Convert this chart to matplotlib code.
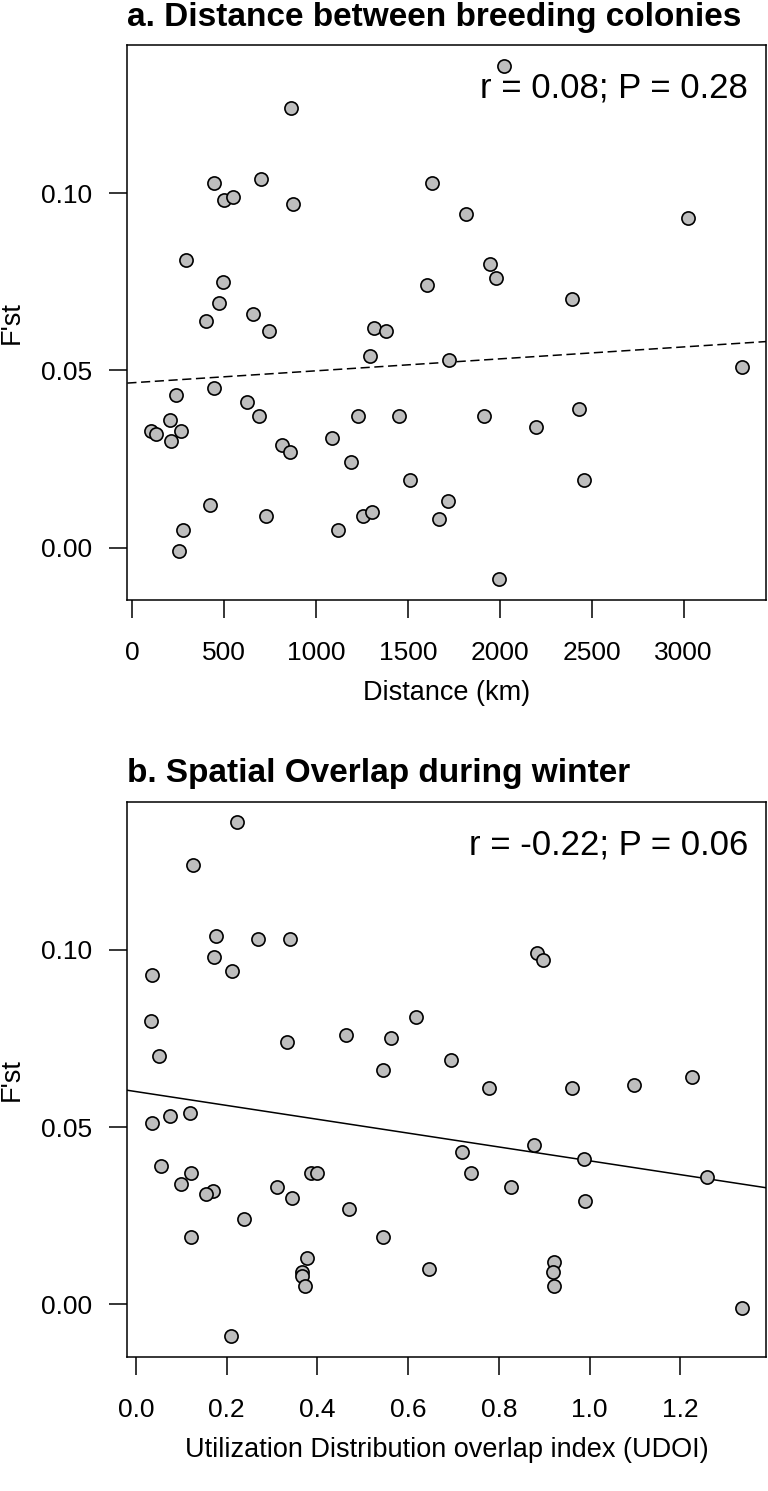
import numpy as np
import matplotlib
matplotlib.use('Agg')
from matplotlib import pyplot as plt

plt.rcParams['font.family'] = ['Liberation Sans', 'DejaVu Sans']

# panel a: distance between breeding colonies (km) vs F'st
dist_km = [864, 446, 699, 496, 547, 873, 1629, 293, 493, 1605, 473, 656, 400,
           2022, 1815, 3025, 1946, 1978, 2391, 745, 1312, 1378, 1293, 1725,
           237, 444, 621, 687, 203, 101, 130, 265, 212, 812, 855, 1085, 1230,
           1453, 1192, 1511, 1716, 1668, 422, 728, 1254, 1301, 1116, 277, 252,
           3319, 1915, 2196, 2429, 2455, 1995]
fst_a = [0.124, 0.103, 0.104, 0.098, 0.099, 0.097, 0.103, 0.081, 0.075, 0.074,
         0.069, 0.066, 0.064, 0.136, 0.094, 0.093, 0.080, 0.076, 0.070, 0.061,
         0.062, 0.061, 0.054, 0.053, 0.043, 0.045, 0.041, 0.037, 0.036, 0.033,
         0.032, 0.033, 0.030, 0.029, 0.027, 0.031, 0.037, 0.037, 0.024, 0.019,
         0.013, 0.008, 0.012, 0.009, 0.009, 0.010, 0.005, 0.005, -0.001,
         0.051, 0.037, 0.034, 0.039, 0.019, -0.009]

# panel b: UDOI vs F'st
udoi = [0.222, 0.126, 0.176, 0.269, 0.340, 0.173, 0.211, 0.036, 0.033, 0.617,
        0.463, 0.563, 0.334, 0.051, 0.544, 0.695, 0.884, 0.897, 1.225, 1.097,
        0.036, 0.075, 0.119, 0.055, 0.122, 0.100, 0.169, 0.155, 0.237, 0.122,
        0.310, 0.343, 0.386, 0.398, 0.470, 0.544, 0.378, 0.367, 0.365, 0.373,
        0.646, 0.209, 0.779, 0.961, 0.719, 0.877, 0.988, 1.259, 0.738, 0.827,
        0.990, 0.922, 0.920, 0.922, 1.337]
fst_b = [0.136, 0.124, 0.104, 0.103, 0.103, 0.098, 0.094, 0.093, 0.080, 0.081,
         0.076, 0.075, 0.074, 0.070, 0.066, 0.069, 0.099, 0.097, 0.064, 0.062,
         0.051, 0.053, 0.054, 0.039, 0.037, 0.034, 0.032, 0.031, 0.024, 0.019,
         0.033, 0.030, 0.037, 0.037, 0.027, 0.019, 0.013, 0.009, 0.008, 0.005,
         0.010, -0.009, 0.061, 0.061, 0.043, 0.045, 0.041, 0.036, 0.037, 0.033,
         0.029, 0.012, 0.009, 0.005, -0.001]

# fitted lines (intercept, slope)
fit_a = (0.0465, 3.37e-6)
fit_b = (0.0600, -0.01953)

yticks = [0.00, 0.05, 0.10]
ytick_labels = ['0.00', '0.05', '0.10']
xticks_a = [0, 500, 1000, 1500, 2000, 2500, 3000]
xticks_b = [0.0, 0.2, 0.4, 0.6, 0.8, 1.0, 1.2]
xtick_labels_b = ['0.0', '0.2', '0.4', '0.6', '0.8', '1.0', '1.2']

fig = plt.figure(figsize=(7.68, 14.91), dpi=100)
ax_a = fig.add_axes([0.1658, 0.5976, 0.8316, 0.3722])
ax_b = fig.add_axes([0.1658, 0.0901, 0.8316, 0.3722])


def style(ax, x, y, fit, ls, title, stat, xlabel):
    ax.scatter(x, y, s=90, c='#bebebe', edgecolors='black', linewidths=1.2, zorder=3)
    ax.axline((0, fit[0]), slope=fit[1], color='black', lw=1.1, ls=ls,
              dashes=(6, 3) if ls == '--' else (None, None), zorder=2)
    xr = max(x) - min(x)
    ax.set_xlim(min(x) - 0.04 * xr, max(x) + 0.04 * xr)
    yr = max(y) - min(y)
    ax.set_ylim(min(y) - 0.04 * yr, max(y) + 0.04 * yr)
    ax.set_yticks(yticks)
    ax.set_yticklabels(ytick_labels)
    for sp in ax.spines.values():
        sp.set_linewidth(1.1)
    ax.tick_params(axis='both', length=12.7, width=1.1, labelsize=19)
    ax.tick_params(axis='x', pad=17)
    ax.tick_params(axis='y', pad=13)
    ax.set_title(title, loc='left', fontsize=24, fontweight='bold', pad=14)
    ax.text(0.972, 0.905, stat, transform=ax.transAxes, ha='right',
            va='baseline', fontsize=25)
    ax.set_ylabel("F'st", fontsize=19.5)
    ax.yaxis.set_label_coords(-0.16, 0.5)
    ax.set_xlabel(xlabel, fontsize=19.5)
    ax.xaxis.set_label_coords(0.5, -0.145)


style(ax_a, dist_km, fst_a, fit_a, '--',
      'a. Distance between breeding colonies', 'r = 0.08; P = 0.28',
      'Distance (km)')
ax_a.set_xticks(xticks_a)

style(ax_b, udoi, fst_b, fit_b, '-',
      'b. Spatial Overlap during winter', 'r = -0.22; P = 0.06',
      'Utilization Distribution overlap index (UDOI)')
ax_b.set_xticks(xticks_b)
ax_b.set_xticklabels(xtick_labels_b)

fig.savefig('out.png', dpi=100)
